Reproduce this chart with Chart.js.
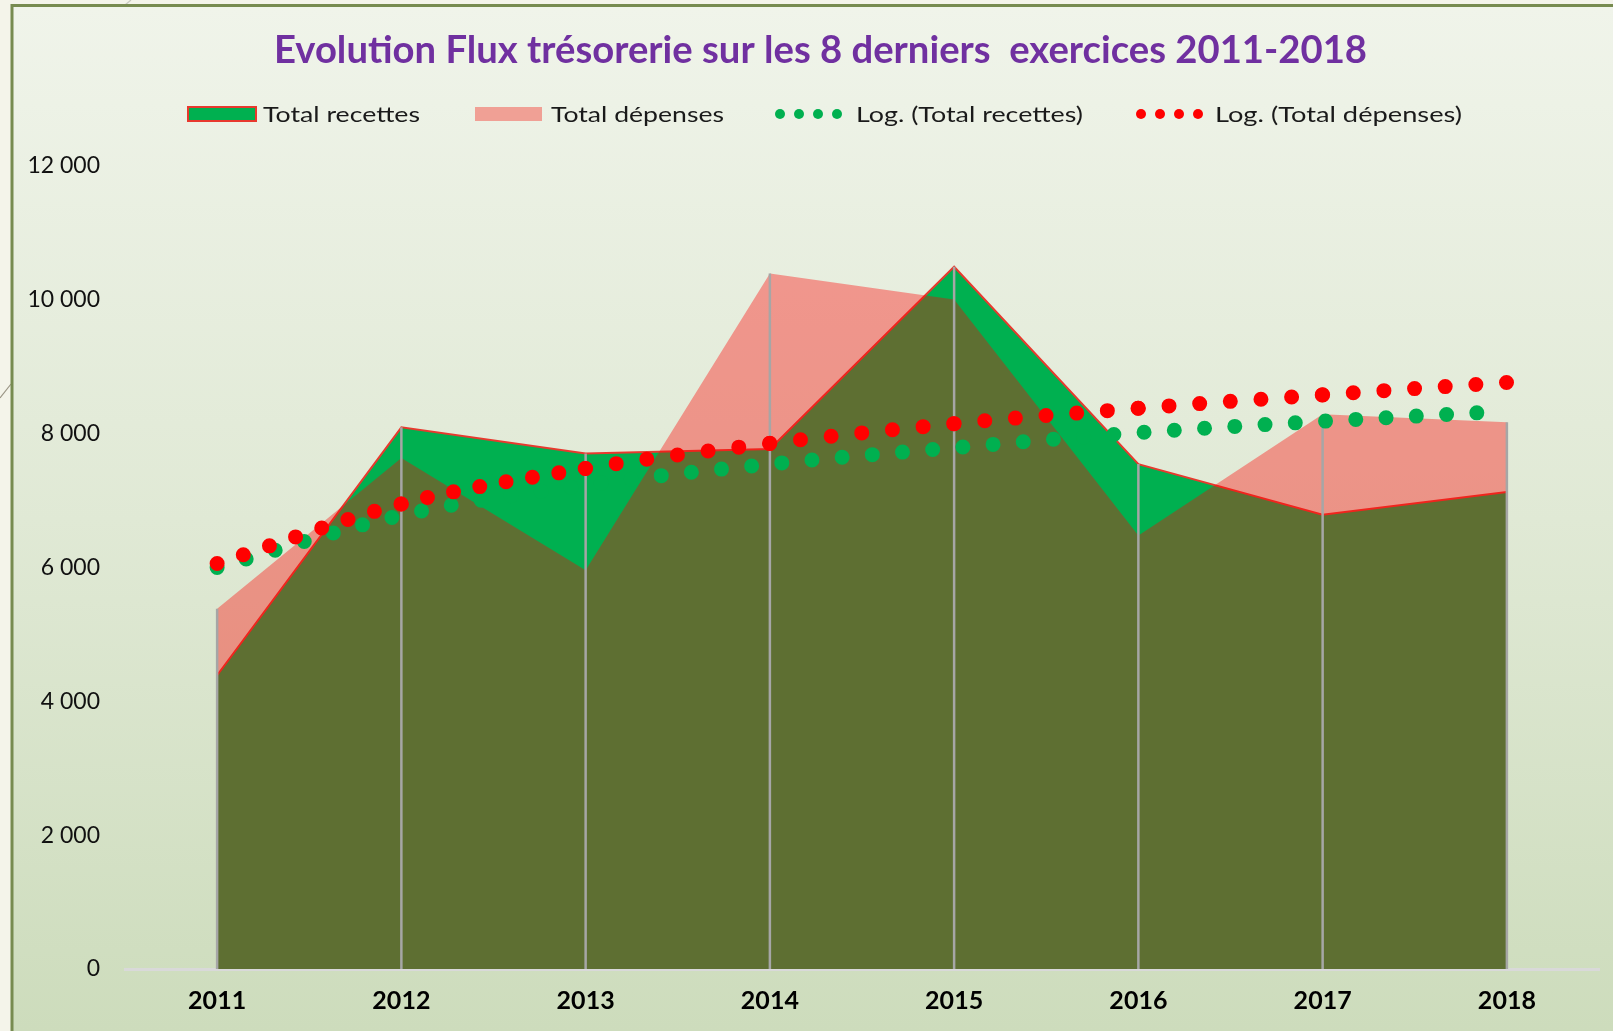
<!DOCTYPE html>
<html><head><meta charset="utf-8">
<script src="https://cdn.jsdelivr.net/npm/chart.js@4/dist/chart.umd.min.js"></script>
<style>html,body{margin:0;padding:0;background:#F4F4EA;overflow:hidden}canvas{display:block}</style>
</head><body>
<canvas id="c" width="1613" height="1031"></canvas>
<script>
const titleText = 'Evolution Flux trésorerie sur les 8 derniers  exercices 2011-2018';
const years = ['2011', '2012', '2013', '2014', '2015', '2016', '2017', '2018'];
const totalRecettes = [4390, 8095, 7705, 7770, 10495, 7545, 6790, 7130];
const totalDepenses = [5385, 7635, 5960, 10395, 10005, 6480, 8290, 8170];
const logRecettes = [6000, 6780, 7230, 7545, 7790, 8015, 8185, 8335];
const logDepenses = [6060, 6950, 7480, 7855, 8150, 8380, 8580, 8765];
const yMin = 0, yMax = 12000, yStep = 2000;
const seriesLabels = ['Total recettes', 'Total dépenses', 'Log. (Total recettes)', 'Log. (Total dépenses)'];

const GREEN = '#00B050', RED = '#FF0000', SALMON = 'rgba(255,0,0,0.37)', LINE_RED = '#E8392E';
// styling: number of dot gaps drawn per year interval on the red trend line
const redDotGaps = [7, 7, 6, 6, 6, 6, 6];

function fitText(ctx, text, x, y, targetW, font, color) {
  ctx.save();
  ctx.font = font;
  const w = ctx.measureText(text).width;
  ctx.translate(x, y);
  ctx.scale(targetW / w, 1);
  ctx.fillStyle = color;
  ctx.textAlign = 'left';
  ctx.textBaseline = 'alphabetic';
  ctx.fillText(text, 0, 0);
  ctx.restore();
}

const backgroundPlugin = {
  id: 'bg',
  beforeDraw(chart) {
    const ctx = chart.ctx, W = chart.width, H = chart.height;
    ctx.save();
    ctx.fillStyle = '#F4F4EA';
    ctx.fillRect(0, 0, W, H);
    const g = ctx.createLinearGradient(0, 7, 0, H);
    g.addColorStop(0, '#F0F4EA');
    g.addColorStop(0.5, '#E0E9D5');
    g.addColorStop(1, '#CDDCBC');
    ctx.fillStyle = g;
    ctx.fillRect(13, 7, W - 13, H - 7);
    ctx.strokeStyle = '#9A9484';
    ctx.lineWidth = 1.2;
    ctx.beginPath(); ctx.moveTo(0, 398); ctx.lineTo(11, 384); ctx.stroke();
    ctx.strokeStyle = '#C8C8C0';
    ctx.beginPath(); ctx.moveTo(131, 0); ctx.lineTo(125, 5); ctx.stroke();
    ctx.strokeStyle = '#778B50';
    ctx.lineWidth = 3;
    ctx.beginPath(); ctx.moveTo(12, H); ctx.lineTo(12, 5.5); ctx.lineTo(W, 5.5); ctx.stroke();
    ctx.restore();
  }
};

const dropLinePlugin = {
  id: 'droplines',
  afterDatasetDraw(chart, args) {
    if (args.index !== 1) return;
    const ctx = chart.ctx, xs = chart.scales.x, ys = chart.scales.y;
    const a = chart.data.datasets[0].data, b = chart.data.datasets[1].data;
    ctx.save();
    ctx.strokeStyle = '#A6A6A6';
    ctx.lineWidth = 2.5;
    for (let i = 0; i < a.length; i++) {
      const x = xs.getPixelForValue(i);
      ctx.beginPath();
      ctx.moveTo(x, ys.getPixelForValue(Math.max(a[i], b[i])));
      ctx.lineTo(x, ys.getPixelForValue(0));
      ctx.stroke();
    }
    ctx.restore();
  }
};

const titleLegendPlugin = {
  id: 'titleLegend',
  afterDraw(chart) {
    const ctx = chart.ctx;
    const ds = chart.data.datasets;
    fitText(ctx, titleText, 274, 63, 1093, 'bold 38px Lato', '#7030A0');
    const font = '22px Lato', tc = '#1A1A1A';
    ctx.save();
    ctx.fillStyle = ds[0].backgroundColor;
    ctx.fillRect(188, 107, 68, 14);
    ctx.strokeStyle = ds[0].borderColor; ctx.lineWidth = 2;
    ctx.strokeRect(188, 107, 68, 14);
    fitText(ctx, ds[0].label, 263, 122, 157, font, tc);
    ctx.fillStyle = '#F0A095';
    ctx.fillRect(475, 107, 67, 14);
    fitText(ctx, ds[1].label, 551, 122, 173, font, tc);
    const dots = (x0, color) => {
      ctx.fillStyle = color;
      for (let k = 0; k < 4; k++) {
        ctx.beginPath(); ctx.arc(x0 + k * 19, 114, 5, 0, Math.PI * 2); ctx.fill();
      }
    };
    dots(780, ds[2].borderColor);
    fitText(ctx, ds[2].label, 856, 122, 227, font, tc);
    dots(1141, ds[3].borderColor);
    fitText(ctx, ds[3].label, 1215, 122, 247, font, tc);
    ctx.restore();
  }
};

const trendStyle = {
  fill: false, borderWidth: 15, borderDash: [0, 30.3], borderCapStyle: 'round',
  cubicInterpolationMode: 'monotone', pointRadius: 0
};

new Chart(document.getElementById('c'), {
  type: 'line',
  data: {
    labels: years,
    datasets: [
      { label: seriesLabels[0], data: totalRecettes, fill: 'origin', backgroundColor: GREEN,
        borderColor: LINE_RED, borderWidth: 2, pointRadius: 0, order: 3 },
      { label: seriesLabels[1], data: totalDepenses, fill: 'origin', backgroundColor: SALMON,
        borderColor: 'rgba(0,0,0,0)', borderWidth: 1, pointRadius: 0, order: 2 },
      Object.assign({ label: seriesLabels[2], data: logRecettes, borderColor: GREEN, order: 1 }, trendStyle),
      Object.assign({ label: seriesLabels[3], data: logDepenses, borderColor: RED, order: 0 }, trendStyle, {
        segment: {
          borderDash: c => {
            const d = Math.hypot(c.p1.x - c.p0.x, c.p1.y - c.p0.y);
            return [0, d * 0.998 / redDotGaps[c.p0DataIndex]];
          }
        }
      })
    ]
  },
  options: {
    responsive: false, animation: false, devicePixelRatio: 1,
    layout: { padding: { left: 12, right: 14, top: 166, bottom: 0 } },
    plugins: { legend: { display: false }, title: { display: false }, tooltip: { enabled: false } },
    scales: {
      x: {
        offset: true,
        grid: { display: false, drawTicks: false },
        border: { display: true, color: '#D9D9D9', width: 3 },
        ticks: { font: { family: 'Lato', weight: 'bold', size: 25 }, color: '#000', padding: 17, maxRotation: 0 },
        afterFit(s) { s.height = 62; }
      },
      y: {
        min: yMin, max: yMax,
        grid: { display: false, drawTicks: false },
        border: { display: false },
        ticks: {
          stepSize: yStep, padding: 25, color: '#111',
          font: { family: 'Lato', size: 23 },
          callback: v => String(v).replace(/\B(?=(\d{3})+(?!\d))/g, ' ')
        },
        afterFit(s) { s.width = 113; }
      }
    }
  },
  plugins: [backgroundPlugin, dropLinePlugin, titleLegendPlugin]
});
</script>
</body></html>
